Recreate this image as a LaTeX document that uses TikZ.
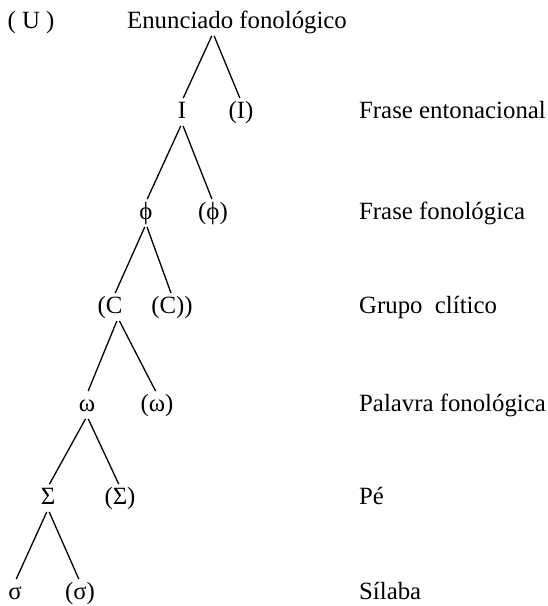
\documentclass[tikz,border=0pt]{standalone}
\usepackage{fontspec}
\setmainfont{Liberation Serif}
\usepackage{tikz}
\usetikzlibrary{positioning}

\begin{document}
\begin{tikzpicture}[x=1pt, y=-1pt,
  lvl/.style={inner sep=0pt, text height=17pt, text depth=5pt,
              font=\fontsize{24.8}{30}\selectfont},
  lvlname/.style={lvl, anchor=west},
  leg/.style={line width=1.3pt, shorten <=3pt, shorten >=3pt}]
\useasboundingbox (0,0) rectangle (548,606);
% tree, one level per row
\node[lvl] (U)      at (31,22)   {( U )};
\node[lvl] (enun)   at (237,22)  {Enunciado fonológico};
\node[lvl] (I)      at (182,112) {I};
\node[lvl] (Ip)     at (241,112) {(I)};
\node[lvl] (phi)    at (146,213) {ϕ};
\node[lvl] (phip)   at (213,213) {(ϕ)};
\node[lvl] (cl)     at (110,307) {(C};
\node[lvl] (clp)    at (172,307) {(C))};
\node[lvl] (om)     at (87,405)  {ω};
\node[lvl] (omp)    at (157,405) {(ω)};
\node[lvl] (Sig)    at (48,498)  {Σ};
\node[lvl] (Sigp)   at (120,498) {(Σ)};
\node[lvl] (sig)    at (15,593)  {σ};
\node[lvl] (sigp)   at (80,593)  {(σ)};
% level names
\node[lvlname] (nI)    at (359,112) {Frase entonacional};
\node[lvlname] (nphi)  at (359,213) {Frase fonológica};
\node[lvlname] (ncl)   at (359,307) {Grupo~~clítico};
\node[lvlname] (nom)   at (359,405) {Palavra fonológica};
\node[lvlname] (nSig)  at (359,498) {Pé};
\node[lvlname] (nsig)  at (359,593) {Sílaba};
\draw[leg] ([xshift=-24pt]enun.south) -- (I.north);
\draw[leg] ([xshift=-24pt]enun.south) -- (Ip.north);
\draw[leg] (I.south) -- (phi.north);
\draw[leg] (I.south) -- (phip.north);
\draw[leg] (phi.south) -- ([xshift=4pt]cl.north);
\draw[leg] (phi.south) -- (clp.north);
\draw[leg] ([xshift=8pt]cl.south) -- (om.north);
\draw[leg] ([xshift=8pt]cl.south) -- (omp.north);
\draw[leg] (om.south) -- (Sig.north);
\draw[leg] (om.south) -- (Sigp.north);
\draw[leg] (Sig.south) -- (sig.north);
\draw[leg] (Sig.south) -- (sigp.north);
\end{tikzpicture}
\end{document}
